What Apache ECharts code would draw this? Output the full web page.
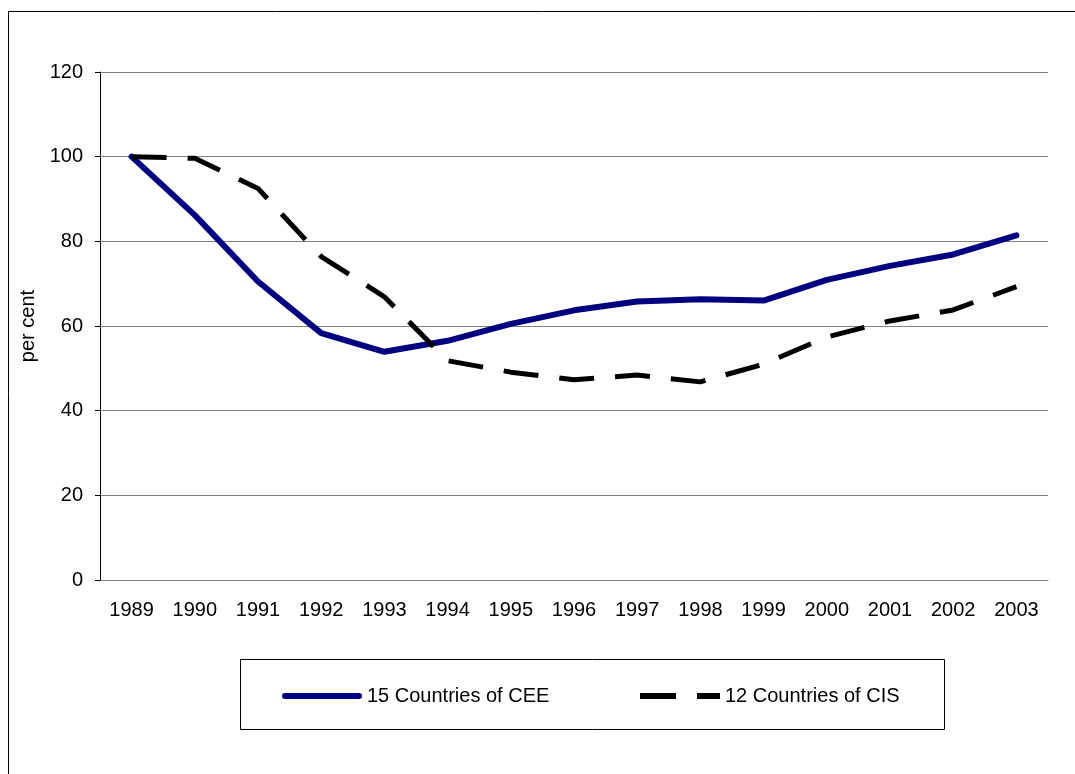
<!DOCTYPE html>
<html>
<head>
<meta charset="utf-8">
<script src="https://cdn.jsdelivr.net/npm/echarts@6/dist/echarts.min.js"></script>
<style>
  html, body { margin: 0; padding: 0; background: #fff; }
  #chart { width: 1075px; height: 774px; }
</style>
</head>
<body>
<div id="chart"></div>
<script>
const years = ['1989', '1990', '1991', '1992', '1993', '1994', '1995', '1996',
  '1997', '1998', '1999', '2000', '2001', '2002', '2003'];
const cee = [100, 86.2, 70.5, 58.3, 53.9, 56.5, 60.5, 63.7, 65.8, 66.3, 66.0, 70.9, 74.2, 76.9, 81.4];
const cis = [100, 99.6, 92.5, 76.4, 66.9, 51.8, 49.1, 47.3, 48.4, 46.8, 51.0, 57.4, 61.2, 63.8, 69.3];

const chart = echarts.init(document.getElementById('chart'));
const font = 'Arial, "Liberation Sans", sans-serif';

// legend icons drawn as bars: solid for CEE, two dashes for CIS
const legendText = { fontSize: 20, color: '#000', fontFamily: font };

chart.setOption({
  animation: false,
  textStyle: { fontFamily: font },
  graphic: [
    { type: 'rect', shape: { x: 8.5, y: 11.5, width: 1100, height: 800 },
      style: { fill: 'none', stroke: '#000', lineWidth: 1 } },
    { type: 'rect', shape: { x: 240.5, y: 659.5, width: 704, height: 70 },
      style: { fill: 'none', stroke: '#000', lineWidth: 1 } }
  ],
  legend: [
    { data: [{ name: '15 Countries of CEE', icon: 'path://M3,0h74a3,3 0 0 1 0,6h-74a3,3 0 0 1 0,-6z' }],
      left: 277, top: 681, itemWidth: 80, itemHeight: 6, textStyle: legendText },
    { data: [{ name: '12 Countries of CIS', icon: 'path://M0,0h36v6h-36z M57,0h23v6h-23z' }],
      left: 635, top: 681, itemWidth: 80, itemHeight: 6, textStyle: legendText }
  ],
  grid: { left: 100, right: 27, top: 72, bottom: 194 },
  xAxis: {
    type: 'category',
    data: years,
    boundaryGap: true,
    axisLine: { lineStyle: { color: '#808080', width: 1 } },
    axisTick: { length: 6, lineStyle: { color: '#808080' } },
    axisLabel: { fontSize: 20, color: '#000', margin: 20, interval: 0 }
  },
  yAxis: {
    type: 'value',
    min: 0, max: 120, interval: 20,
    name: 'per cent',
    nameLocation: 'middle',
    nameRotate: 90,
    nameGap: 58,
    nameTextStyle: { fontSize: 20, color: '#000' },
    axisLine: { show: true, lineStyle: { color: '#000', width: 1 } },
    axisTick: { show: true, length: 5, lineStyle: { color: '#000' } },
    axisLabel: { fontSize: 20, color: '#000', margin: 17 },
    splitLine: { lineStyle: { color: '#808080', width: 1 } }
  },
  series: [
    {
      name: '15 Countries of CEE',
      type: 'line',
      data: cee,
      symbol: 'none',
      color: '#000080',
      lineStyle: { color: '#000080', width: 6, cap: 'round', join: 'round' }
    },
    {
      name: '12 Countries of CIS',
      type: 'line',
      data: cis,
      symbol: 'none',
      color: '#000',
      lineStyle: { color: '#000', width: 5, type: [35, 21] }
    }
  ]
});
</script>
</body>
</html>
